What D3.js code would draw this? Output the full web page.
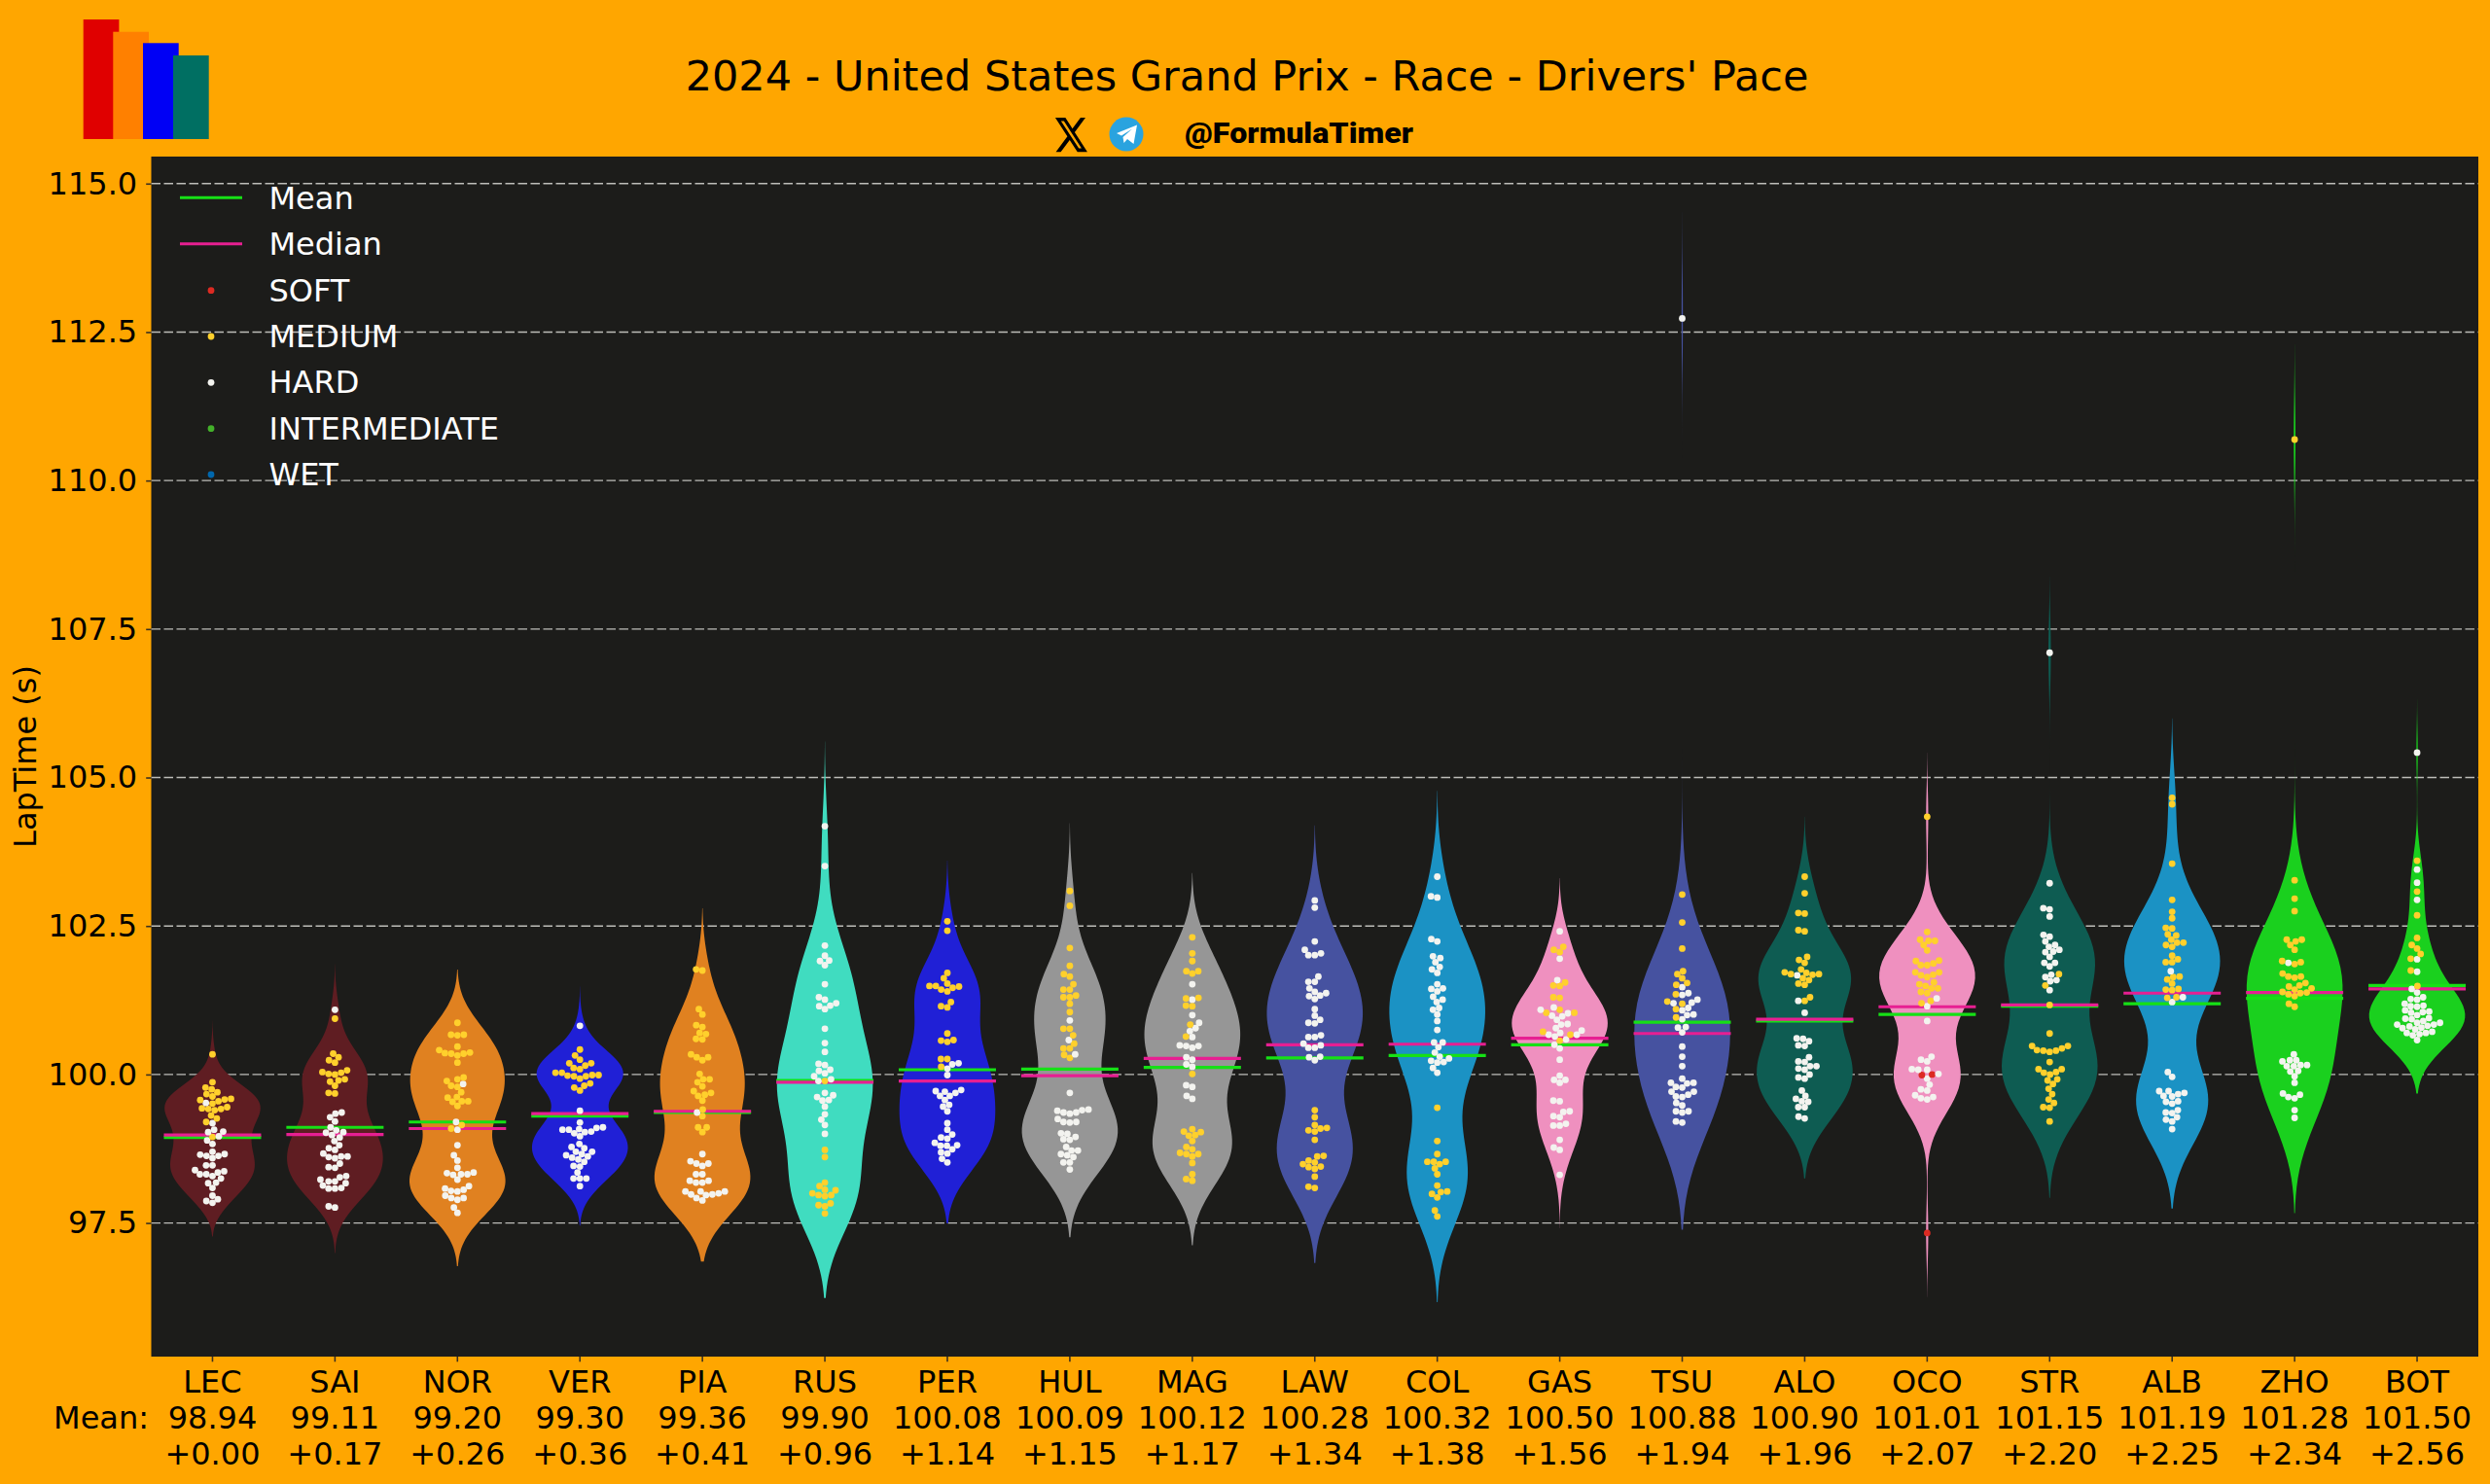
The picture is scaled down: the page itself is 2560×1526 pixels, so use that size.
<!DOCTYPE html>
<html>
<head>
<meta charset="utf-8">
<title>Drivers' Pace</title>
<script src="https://cdn.jsdelivr.net/npm/d3@7"></script>
<style>
  html, body { margin: 0; padding: 0; background: #ffa600; }
  svg { display: block; }
  text { font-family: "DejaVu Sans", sans-serif; }
</style>
</head>
<body>
<div id="chart"></div>
<script>
// chart values
const drivers = ["LEC","SAI","NOR","VER","PIA","RUS","PER","HUL","MAG","LAW","COL","GAS","TSU","ALO","OCO","STR","ALB","ZHO","BOT"];
const means = [98.94,99.11,99.20,99.30,99.36,99.90,100.08,100.09,100.12,100.28,100.32,100.50,100.88,100.90,101.01,101.15,101.19,101.28,101.50];
const gaps = [0.00,0.17,0.26,0.36,0.41,0.96,1.14,1.15,1.17,1.34,1.38,1.56,1.94,1.96,2.07,2.20,2.25,2.34,2.56];
const medians = [98.98,98.99,99.09,99.34,99.38,99.87,99.89,99.98,100.27,100.50,100.51,100.61,100.69,100.93,101.14,101.17,101.37,101.38,101.44];
const yTicks = [97.5,100,102.5,105,107.5,110,112.5,115];
const teamColors = ["#5f1d22","#5f1d22","#e08120","#2020d6","#e08120","#40dcc0","#2020d6","#969696","#969696","#4652a0","#1b92c4","#ef90bf","#4652a0","#0e5c52","#ef90bf","#0e5c52","#1b92c4","#1ad01e","#1ad01e"];
const compoundColors = { SOFT: "#dc2a22", MEDIUM: "#ffd02c", HARD: "#f3f3ef", INTERMEDIATE: "#43b02a", WET: "#0067ad" };

const softLaps = [[],[],[],[],[],[],[],[],[],[],[],[],[],[],[99.99,100.00,97.33],[],[],[],[]];

const mediumLaps = [
  [100.34,99.87,99.78,99.75,99.70,99.67,99.63,99.58,99.55,99.59,99.57,99.51,99.45,99.42,99.40,99.42,99.43,99.31,99.26,99.20,98.95],
  [100.94,100.35,100.29,100.24,100.20,100.07,100.03,100.00,100.01,100.04,99.92,99.90,99.88,99.81,99.69,99.68],
  [100.87,100.67,100.66,100.67,100.47,100.37,100.35,100.32,100.35,100.36,100.41,100.20,99.95,99.92,99.89,99.81,99.79,99.70,99.62,99.61,99.55,99.54,99.55,99.47,99.15,99.09],
  [100.42,100.32,100.25,100.19,100.15,100.19,100.11,100.09,100.03,99.98,99.97,100.03,99.93,99.97,99.99,99.99,99.85,99.81,99.78,99.73],
  [101.77,101.75,101.10,101.01,100.83,100.80,100.70,100.68,100.60,100.59,100.34,100.29,100.29,100.24,100.01,99.92,99.92,99.87,99.80,99.72,99.69,99.66,99.64,99.56,99.41,99.30,99.11,99.11,99.03],
  [99.89,98.73,98.61,98.18,98.12,98.06,98.05,98.00,97.97,97.95,97.97,97.80,97.78,97.83,97.66],
  [102.58,102.42,101.71,101.62,101.53,101.49,101.43,101.40,101.46,101.48,101.49,101.22,101.15,101.13,100.69,100.57,100.55,100.58,100.26,100.26,100.13],
  [103.09,102.84,102.13,101.83,101.69,101.65,101.52,101.43,101.43,101.33,101.30,101.30,101.19,101.05,100.77,100.77,100.66,100.52,100.44,100.44,100.33,100.28],
  [102.31,102.04,101.91,101.74,101.70,101.74,101.28,101.29,101.16,101.15,100.84,100.64,100.01,99.08,99.03,99.04,98.98,98.97,98.88,98.78,98.74,98.66,98.66,98.68,98.62,98.51,98.32,98.24,98.21],
  [99.40,99.28,99.15,99.06,99.04,99.09,99.10,98.90,98.63,98.62,98.55,98.52,98.49,98.44,98.45,98.41,98.28,98.11,98.09],
  [99.44,98.88,98.66,98.53,98.53,98.49,98.53,98.42,98.32,98.13,98.02,98.03,97.99,97.93,97.71,97.61],
  [102.15,102.10,102.06,101.55,101.50,101.49,101.30,101.29,101.09,101.04,101.04,100.72,100.67,100.57],
  [103.03,102.56,102.12,101.74,101.69,101.62,101.54,101.51,101.35,101.19,101.23,101.10,100.96],
  [103.33,103.05,102.72,102.71,102.43,102.41,101.98,101.93,101.88,101.77,101.72,101.69,101.68,101.69,101.71,101.62,101.59,101.53,101.51,101.24,101.30],
  [104.34,102.40,102.25,102.27,102.25,102.18,102.09,101.91,101.92,101.87,101.84,101.84,101.72,101.67,101.64,101.68,101.72,101.52,101.49,101.55,101.45,101.45,101.39,101.37,101.20,101.24],
  [101.69,101.50,101.17,100.69,100.48,100.44,100.40,100.38,100.40,100.41,100.48,100.21,100.09,100.03,100.00,100.04,100.09,99.90,99.92,99.84,99.76,99.67,99.58,99.52,99.45,99.44,99.21],
  [104.66,104.55,103.55,102.94,102.74,102.63,102.47,102.46,102.36,102.34,102.27,102.22,102.22,102.18,102.15,102.00,101.94,101.89,101.89,101.65,101.64,101.60,101.53,101.43,101.42,101.44,101.29,101.30],
  [110.69,103.27,102.96,102.75,102.27,102.24,102.27,102.18,102.10,101.91,101.86,101.89,101.70,101.65,101.63,101.65,101.54,101.50,101.45,101.48,101.39,101.35,101.32,101.37,101.38,101.43,101.19,101.14],
  [103.60,103.08,102.68,102.30,102.18,102.12,102.03,101.95,101.75,101.49]
];

const hardLaps = [
  [99.52,99.18,99.03,99.04,99.07,98.96,98.89,98.83,98.66,98.63,98.65,98.70,98.59,98.63,98.47,98.47,98.39,98.35,98.32,98.29,98.37,98.25,98.32,98.17,98.18,98.09,97.96,97.90,97.84,97.87],
  [101.09,99.36,99.34,99.28,99.21,99.11,99.06,99.02,99.03,98.98,98.94,98.88,98.76,98.73,98.81,98.67,98.62,98.59,98.61,98.62,98.50,98.44,98.43,98.29,98.27,98.23,98.20,98.20,98.17,98.13,98.08,98.08,98.09,97.78,97.76],
  [99.84,99.20,99.07,98.81,98.64,98.55,98.43,98.34,98.32,98.31,98.32,98.35,98.23,98.12,98.06,98.03,98.04,98.08,97.96,97.92,97.89,97.92,97.76,97.67],
  [100.82,99.39,99.19,99.07,99.07,99.01,99.08,98.96,99.03,99.04,99.10,99.11,98.83,98.76,98.78,98.70,98.70,98.66,98.62,98.64,98.60,98.57,98.53,98.45,98.46,98.35,98.25,98.25,98.25,98.12],
  [99.36,98.66,98.54,98.50,98.46,98.50,98.32,98.32,98.21,98.18,98.18,98.21,98.03,97.98,98.03,97.97,97.98,98.00,98.03,97.92,97.88],
  [104.18,103.51,102.17,102.00,101.91,101.92,101.84,101.52,101.30,101.26,101.20,101.15,101.16,101.10,100.77,100.53,100.38,100.18,100.16,100.08,100.06,100.02,99.97,99.92,99.89,99.69,99.62,99.65,99.57,99.56,99.46,99.33,99.24,99.15,99.00],
  [100.19,100.17,100.10,99.99,99.71,99.69,99.74,99.64,99.64,99.72,99.57,99.49,99.46,99.38,99.18,99.07,98.99,98.92,98.94,98.85,98.81,98.80,98.80,98.74,98.69,98.67,98.58,98.52],
  [100.91,100.58,100.34,99.69,99.41,99.39,99.36,99.34,99.36,99.40,99.25,99.20,99.19,99.20,99.01,99.00,98.95,98.91,98.90,98.78,98.72,98.72,98.66,98.64,98.61,98.52,98.52,98.40],
  [101.52,101.26,101.00,100.87,100.78,100.73,100.63,100.49,100.48,100.45,100.48,100.29,100.25,100.17,100.13,99.82,99.79,99.64,99.59],
  [102.93,102.81,102.24,102.10,102.04,102.01,102.01,101.65,101.56,101.56,101.45,101.39,101.32,101.27,101.33,101.37,101.10,100.99,100.92,100.87,100.86,100.66,100.63,100.63,100.52,100.45,100.45,100.49,100.29,100.30,100.24],
  [103.33,103.00,102.98,102.28,102.24,101.99,101.96,101.89,101.81,101.77,101.71,101.52,101.44,101.45,101.40,101.31,101.26,101.22,101.12,101.09,101.01,100.90,100.75,100.54,100.54,100.46,100.37,100.30,100.27,100.21,100.20,100.23,100.11,100.03],
  [102.41,101.95,101.59,101.13,101.09,101.03,100.98,100.99,100.92,100.85,100.84,100.78,100.70,100.74,100.67,100.64,100.67,100.59,100.50,100.44,100.25,99.98,99.91,99.91,99.86,99.56,99.55,99.37,99.38,99.30,99.28,99.14,99.14,99.17,98.90,98.77,98.73,98.31],
  [112.73,101.47,101.37,101.34,101.26,101.21,101.20,101.12,101.08,101.01,101.00,100.93,100.80,100.79,100.71,100.47,100.30,100.14,99.93,99.86,99.86,99.85,99.79,99.78,99.71,99.71,99.66,99.63,99.62,99.52,99.48,99.38,99.36,99.38,99.21,99.19],
  [101.67,101.24,101.04,100.61,100.60,100.56,100.49,100.48,100.29,100.22,100.21,100.14,100.14,100.10,100.08,100.00,99.95,99.93,99.73,99.64,99.59,99.55,99.54,99.45,99.45,99.29,99.26],
  [101.28,101.15,100.90,100.30,100.25,100.22,100.09,100.08,100.08,100.01,99.93,99.83,99.75,99.73,99.65,99.60,99.58,99.62],
  [107.10,103.22,102.80,102.78,102.66,102.35,102.32,102.24,102.18,102.15,102.06,102.07,102.10,101.98,101.88,101.82,101.88,101.68,101.59,101.57,101.64,101.42],
  [101.74,101.30,101.22,100.04,99.96,99.69,99.64,99.63,99.67,99.72,99.72,99.54,99.51,99.55,99.40,99.36,99.35,99.28,99.24,99.21,99.08],
  [101.88,100.34,100.24,100.22,100.16,100.14,100.16,100.24,100.14,100.05,100.06,99.97,99.86,99.62,99.60,99.66,99.68,99.40,99.27],
  [105.42,103.45,103.23,102.94,101.94,101.73,101.44,101.38,101.30,101.26,101.27,101.19,101.16,101.15,101.14,101.08,101.04,101.00,101.05,101.06,100.94,100.93,100.87,100.90,100.95,100.84,100.79,100.81,100.76,100.78,100.82,100.84,100.87,100.70,100.66,100.68,100.70,100.72,100.58]
];

const width = 2560;
const height = 1526;
const plot = { left: 155.5, right: 2548, top: 161, bottom: 1395 };
const fontSize = 32;

const svg = d3.select("#chart").append("svg")
  .attr("width", width)
  .attr("height", height)
  .attr("viewBox", `0 0 ${width} ${height}`);

svg.append("rect").attr("width", width).attr("height", height).attr("fill", "#ffa600");
svg.append("rect")
  .attr("x", plot.left).attr("y", plot.top)
  .attr("width", plot.right - plot.left).attr("height", plot.bottom - plot.top)
  .attr("fill", "#1c1c1a");

const x = d3.scaleBand().domain(drivers).range([plot.left, plot.right]);
const y = d3.scaleLinear().domain([95.25, 115.455]).range([plot.bottom, plot.top]);
const center = d => x(d) + x.bandwidth() / 2;

// logo, top left
const logo = [
  { x: 85.7, y: 20, fill: "#e00000" },
  { x: 116.3, y: 32.7, fill: "#ff8000" },
  { x: 147, y: 44.3, fill: "#0000f5" },
  { x: 178, y: 57, fill: "#006f62" }
];
svg.append("g").selectAll("rect").data(logo).join("rect")
  .attr("x", d => d.x).attr("y", d => d.y)
  .attr("width", 36.7).attr("height", d => 143 - d.y)
  .attr("fill", d => d.fill);

// title and social line
svg.append("text")
  .attr("x", 1282).attr("y", 93)
  .attr("text-anchor", "middle").attr("font-size", 43).attr("fill", "#000")
  .text("2024 - United States Grand Prix - Race - Drivers' Pace");

svg.append("path")
  .attr("d", "M18.244 2.25h3.308l-7.227 8.26 8.502 11.24H16.17l-5.214-6.817L4.99 21.75H1.68l7.73-8.835L1.254 2.25H8.08l4.713 6.231zm-1.161 17.52h1.833L7.084 4.126H5.117z")
  .attr("transform", "translate(1083,117) scale(1.53,1.8)")
  .attr("fill", "#000");

const tg = svg.append("g").attr("transform", "translate(1158,138)");
tg.append("circle").attr("r", 17.5).attr("fill", "#2aa3df");
tg.append("path").attr("d", "M-10,-1L11,-9.5L7.5,10L1,5L-2.5,9L-3.5,3L6,-5.5L-5,1.5Z").attr("fill", "#fff");

svg.append("text")
  .attr("x", 1218).attr("y", 147)
  .attr("font-size", 29).attr("font-weight", 900).attr("fill", "#000")
  .attr("textLength", 235).attr("lengthAdjust", "spacingAndGlyphs")
  .style("font-family", "Roboto, sans-serif")
  .text("@FormulaTimer");

// grid behind the violins
svg.append("g").selectAll("line").data(yTicks).join("line")
  .attr("x1", plot.left).attr("x2", plot.right)
  .attr("y1", d => y(d)).attr("y2", d => y(d))
  .attr("stroke", "#bdbdb9").attr("stroke-width", 1.4)
  .attr("stroke-dasharray", "9.5,3.5");

// gaussian kde with scott bandwidth, cut at 2 bandwidths, same as seaborn
function kde(values) {
  const bw = d3.deviation(values) * Math.pow(values.length, -0.2);
  const lo = d3.min(values) - 2 * bw;
  const hi = d3.max(values) + 2 * bw;
  return d3.range(100).map(i => {
    const v = lo + (hi - lo) * i / 99;
    const dens = d3.sum(values, w => Math.exp(-0.5 * ((v - w) / bw) ** 2));
    return { v, dens };
  });
}

// swarm placement, lowest lap first, closest free spot to the centre
function swarm(points, cx, dist) {
  const placed = [];
  points.slice().sort((a, b) => b.py - a.py).forEach(p => {
    const near = placed.filter(q => Math.abs(q.py - p.py) < dist);
    const cand = [cx];
    near.forEach(q => {
      const dx = Math.sqrt(dist * dist - (q.py - p.py) ** 2);
      cand.push(q.px - dx, q.px + dx);
    });
    cand.sort((a, b) => Math.abs(a - cx) - Math.abs(b - cx));
    const free = cand.find(c => near.every(q => (q.px - c) ** 2 + (q.py - p.py) ** 2 >= dist * dist - 0.01));
    p.px = free;
    placed.push(p);
  });
  return placed;
}

// tails get thinner than the plain kde, the spikes in the original are hairlines
const tailSoftness = 0.045;
const thinTail = r => r * r / (r + tailSoftness) * (1 + tailSoftness);
const maxHalfWidth = 49.3;
const lineLen = 100;

const violins = svg.append("g");
drivers.forEach((d, i) => {
  const curve = kde([...softLaps[i], ...mediumLaps[i], ...hardLaps[i]]);
  const peak = d3.max(curve, c => c.dens);
  const half = c => maxHalfWidth * thinTail(c.dens / peak);
  const area = d3.area()
    .y(c => y(c.v))
    .x0(c => center(d) - half(c))
    .x1(c => center(d) + half(c));
  violins.append("path").attr("d", area(curve)).attr("fill", teamColors[i]);
});

// mean and median lines
svg.append("g").selectAll("line").data(drivers).join("line")
  .attr("x1", d => center(d) - lineLen / 2).attr("x2", d => center(d) + lineLen / 2)
  .attr("y1", (d, i) => y(means[i])).attr("y2", (d, i) => y(means[i]))
  .attr("stroke", "#16e016").attr("stroke-width", 3.2);
svg.append("g").selectAll("line").data(drivers).join("line")
  .attr("x1", d => center(d) - lineLen / 2).attr("x2", d => center(d) + lineLen / 2)
  .attr("y1", (d, i) => y(medians[i])).attr("y2", (d, i) => y(medians[i]))
  .attr("stroke", "#e71f92").attr("stroke-width", 3.2);

// lap dots
const dots = svg.append("g");
drivers.forEach((d, i) => {
  const pts = [
    ...softLaps[i].map(v => ({ v, c: "SOFT" })),
    ...mediumLaps[i].map(v => ({ v, c: "MEDIUM" })),
    ...hardLaps[i].map(v => ({ v, c: "HARD" }))
  ];
  pts.forEach(p => { p.py = y(p.v); });
  dots.append("g").selectAll("circle").data(swarm(pts, center(d), 6.6)).join("circle")
    .attr("cx", p => p.px).attr("cy", p => p.py).attr("r", 3.4)
    .attr("fill", p => compoundColors[p.c]);
});

// axes
const yAxis = d3.axisLeft(y).tickValues(yTicks).tickFormat(d3.format(".1f")).tickSize(5.3).tickPadding(9);
const gy = svg.append("g").attr("transform", `translate(${plot.left},0)`).call(yAxis);
const xAxis = d3.axisBottom(x).tickSize(5.3).tickPadding(8);
const gx = svg.append("g").attr("transform", `translate(0,${plot.bottom})`).call(xAxis);
[gy, gx].forEach(g => {
  g.select(".domain").remove();
  g.selectAll(".tick line").attr("stroke", "#3a3020").attr("stroke-width", 1.6);
  g.selectAll("text").attr("font-size", fontSize).attr("fill", "#000").attr("font-family", "DejaVu Sans");
});
gx.selectAll(".tick text").attr("dy", null).attr("y", 36.7);

gx.selectAll(".tick").each(function (d, i) {
  const tick = d3.select(this);
  [[74.3, means[i].toFixed(2)], [110.7, "+" + gaps[i].toFixed(2)]].forEach(([ty, label]) => {
    tick.append("text")
      .attr("y", ty).attr("text-anchor", "middle")
      .attr("font-size", fontSize).attr("fill", "#000")
      .text(label);
  });
});

svg.append("text")
  .attr("x", 153).attr("y", 1469.3)
  .attr("text-anchor", "end").attr("font-size", fontSize).attr("fill", "#000")
  .text("Mean:");

svg.append("text")
  .attr("transform", `translate(37,${(plot.top + plot.bottom) / 2}) rotate(-90)`)
  .attr("text-anchor", "middle").attr("font-size", fontSize).attr("fill", "#000")
  .text("LapTime (s)");

// legend
const legendLines = [["Mean", "#16e016"], ["Median", "#e71f92"]];
const legendDots = ["SOFT", "MEDIUM", "HARD", "INTERMEDIATE", "WET"];
const rowY = d3.scaleLinear().domain([0, 6]).range([215, 499]);
const legend = svg.append("g");
legendLines.forEach(([name, color], i) => {
  legend.append("line")
    .attr("x1", 185).attr("x2", 249)
    .attr("y1", rowY(i) - 11.7).attr("y2", rowY(i) - 11.7)
    .attr("stroke", color).attr("stroke-width", 3);
  legend.append("text").attr("x", 276.5).attr("y", rowY(i))
    .attr("font-size", fontSize).attr("fill", "#fff").text(name);
});
legendDots.forEach((name, i) => {
  legend.append("circle")
    .attr("cx", 217).attr("cy", rowY(i + 2) - 11).attr("r", 3.4)
    .attr("fill", compoundColors[name]);
  legend.append("text").attr("x", 276.5).attr("y", rowY(i + 2))
    .attr("font-size", fontSize).attr("fill", "#fff").text(name);
});
</script>
</body>
</html>
